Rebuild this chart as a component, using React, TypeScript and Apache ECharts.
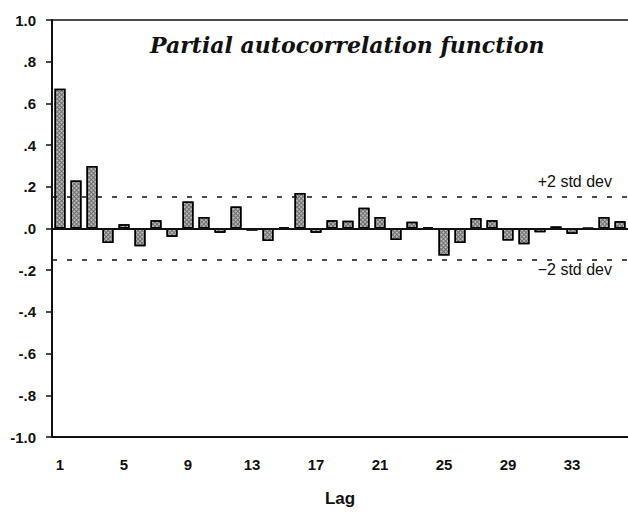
import React, { useEffect, useRef } from "react";
import * as echarts from "echarts";

const lags: string[] = Array.from({ length: 36 }, (_, i) => String(i + 1));
const pacfValues: number[] = [
  0.67, 0.23, 0.30, -0.07, 0.02, -0.085, 0.04, -0.04, 0.13, 0.055,
  -0.02, 0.105, -0.01, -0.06, 0.005, 0.17, -0.02, 0.04, 0.037, 0.1,
  0.055, -0.055, 0.032, 0.005, -0.13, -0.07, 0.05, 0.04, -0.058, -0.075,
  -0.018, 0.01, -0.025, 0.003, 0.055, 0.035,
];
const stdDevBand: number[] = [0.155, -0.155];
const bandLabels: string[] = ["+2 std dev", "\u22122 std dev"];
const yTickValues: number[] = [-1, -0.8, -0.6, -0.4, -0.2, 0, 0.2, 0.4, 0.6, 0.8, 1];
const yTickLabels: string[] = ["-1.0", "-.8", "-.6", "-.4", "-.2", ".0", ".2", ".4", ".6", ".8", "1.0"];

const FONT = "'Liberation Sans', Arial, sans-serif";

export default function App() {
  const ref = useRef<HTMLDivElement>(null);
  useEffect(() => {
    if (!ref.current) return;
    const chart = echarts.init(ref.current, undefined, { renderer: "svg" });
    const labelFor = (v: number) => {
      const idx = yTickValues.findIndex((t) => Math.abs(t - v) < 1e-6);
      return idx >= 0 ? yTickLabels[idx] : "";
    };
    chart.setOption({
      animation: false,
      backgroundColor: "#ffffff",
      title: {
        text: "Partial autocorrelation function",
        left: 145,
        top: 29,
        textStyle: {
          fontFamily: "'DejaVu Serif', serif",
          fontStyle: "italic",
          fontWeight: 600,
          fontSize: 22,
          color: "#111",
        },
      },
      grid: { left: 52, top: 20, width: 576, height: 417, containLabel: false },
      xAxis: {
        type: "category",
        data: lags,
        boundaryGap: true,
        name: "Lag",
        nameLocation: "middle",
        nameGap: 53,
        nameTextStyle: { fontFamily: FONT, fontWeight: "bold", fontSize: 17, color: "#111" },
        axisLine: { onZero: false, lineStyle: { color: "#111", width: 2 } },
        axisTick: { show: false },
        axisLabel: {
          interval: 3,
          margin: 20,
          fontFamily: FONT,
          fontWeight: "bold",
          fontSize: 15,
          color: "#111",
        },
        splitLine: { show: false },
      },
      yAxis: {
        type: "value",
        min: -1,
        max: 1,
        interval: 0.2,
        axisLine: { show: true, lineStyle: { color: "#111", width: 2 } },
        axisTick: { show: true, inside: false, length: 6, lineStyle: { color: "#111", width: 1.5 } },
        axisLabel: {
          margin: 16,
          fontFamily: FONT,
          fontWeight: "bold",
          fontSize: 15,
          color: "#111",
          formatter: (v: number) => labelFor(v),
        },
        splitLine: { show: false },
      },
      series: [
        {
          type: "bar",
          data: pacfValues,
          barWidth: 11,
          itemStyle: {
            color: "#6e6e6e",
            borderColor: "#000",
            borderWidth: 1.5,
            decal: {
              symbol: "circle",
              symbolSize: 0.9,
              color: "rgba(255,255,255,0.7)",
              dashArrayX: [2, 1],
              dashArrayY: [2, 1],
              rotation: 0.785,
            },
          },
          markLine: {
            silent: true,
            symbol: "none",
            label: { show: false },
            data: [
              { yAxis: 0, lineStyle: { color: "#111", width: 2, type: "solid" } },
              { yAxis: 1, lineStyle: { color: "#111", width: 1.5, type: "solid" } },
              { yAxis: stdDevBand[0], lineStyle: { color: "#111", width: 1.5, type: [5, 10] } },
              { yAxis: stdDevBand[1], lineStyle: { color: "#111", width: 1.5, type: [5, 10] } },
            ],
          },
        },
      ],
      graphic: [
        {
          type: "text",
          right: 16,
          top: 173,
          style: { text: bandLabels[0], font: `16px ${FONT}`, fill: "#111" },
        },
        {
          type: "text",
          right: 16,
          top: 261,
          style: { text: bandLabels[1], font: `16px ${FONT}`, fill: "#111" },
        },
      ],
    });
    return () => chart.dispose();
  }, []);
  return (
    <div
      ref={ref}
      style={{ position: "fixed", left: 0, top: 0, width: 628, height: 514 }}
    />
  );
}
